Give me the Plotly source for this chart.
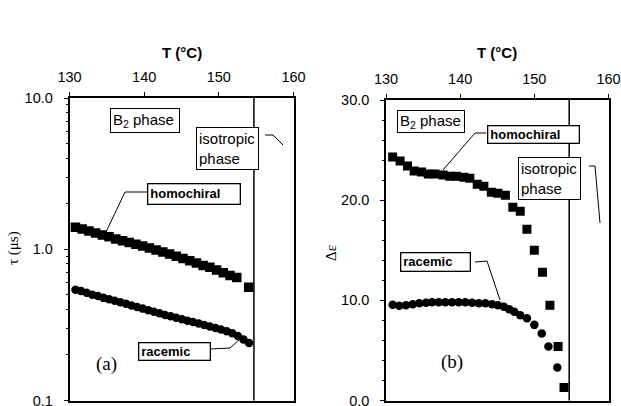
import plotly.graph_objects as go

W, H = 621, 406

# ---------------- data ----------------
# panel (a): relaxation time tau (us) vs T (C)
tau_homo_T = [130.8, 131.7, 132.6, 133.5, 134.4, 135.3, 136.2, 137.1, 138.0, 138.9,
              139.8, 140.7, 141.6, 142.5, 143.4, 144.3, 145.2, 146.1, 147.0, 147.9,
              148.8, 149.7, 150.6, 151.5, 152.4, 154.0]
tau_homo = [1.40, 1.36, 1.32, 1.28, 1.24, 1.21, 1.17, 1.14, 1.11, 1.08,
            1.05, 1.02, 0.99, 0.96, 0.93, 0.90, 0.87, 0.84, 0.81, 0.78,
            0.76, 0.73, 0.70, 0.67, 0.65, 0.56]

tau_rac_T = [130.8, 131.55, 132.3, 133.05, 133.8, 134.55, 135.3, 136.05, 136.8, 137.55,
             138.3, 139.05, 139.8, 140.55, 141.3, 142.05, 142.8, 143.55, 144.3, 145.05,
             145.8, 146.55, 147.3, 148.05, 148.8, 149.55, 150.3, 151.05, 151.8, 152.55,
             153.3, 154.05]
tau_rac = [0.54, 0.53, 0.515, 0.50, 0.49, 0.477, 0.467, 0.457, 0.447, 0.437,
           0.425, 0.415, 0.405, 0.395, 0.386, 0.377, 0.368, 0.36, 0.352, 0.344,
           0.337, 0.33, 0.323, 0.316, 0.309, 0.302, 0.295, 0.287, 0.278, 0.267,
           0.253, 0.24]

# panel (b): dielectric strength vs T (C)
de_homo_T = [130.9, 131.9, 132.9, 133.8, 134.8, 135.7, 136.6, 137.7, 138.6, 139.5,
             140.5, 141.3, 142.3, 143.2, 144.2, 145.1, 146.1, 147.1, 148.1, 149.0,
             150.0, 151.1, 152.1, 153.2, 154.0]
de_homo = [24.3, 23.9, 23.4, 22.9, 22.8, 22.6, 22.6, 22.5, 22.4, 22.4,
           22.3, 22.2, 21.6, 21.4, 20.8, 20.7, 20.5, 19.3, 18.9, 17.1,
           15.0, 12.8, 9.5, 5.4, 1.3]

de_rac_T = [130.9, 131.8, 132.7, 133.6, 134.5, 135.4, 136.2, 137.1, 138.0, 138.9,
            139.8, 140.7, 141.6, 142.5, 143.4, 144.3, 145.1, 145.9, 146.6, 147.3,
            148.1, 149.0, 150.0, 151.0, 151.9, 153.1]
de_rac = [9.55, 9.45, 9.5, 9.6, 9.7, 9.75, 9.8, 9.8, 9.8, 9.8,
          9.8, 9.8, 9.75, 9.7, 9.7, 9.6, 9.5, 9.35, 9.1, 8.85,
          8.5, 8.2, 7.55, 6.7, 5.4, 3.3]

transition_T = 154.7

x_ticks = [130, 140, 150, 160]
tau_ticks = [0.1, 1.0, 10.0]
tau_ticktext = ["0.1", "1.0", "10.0"]
tau_minor = [0.2, 0.3, 0.4, 0.5, 0.6, 0.7, 0.8, 0.9, 2, 3, 4, 5, 6, 7, 8, 9]
de_ticks = [0, 10, 20, 30]
de_ticktext = ["0.0", "10.0", "20.0", "30.0"]

# ---------------- layout helpers ----------------
def px(x):
    return x / W

def py(y):
    return 1 - y / H

SANS = "Liberation Sans, Arial, Helvetica, sans-serif"
SERIF = "Liberation Serif, Times New Roman, serif"

fig = go.Figure()

fig.add_trace(go.Scatter(x=tau_homo_T, y=tau_homo, mode="markers", xaxis="x", yaxis="y",
                         marker=dict(symbol="square", size=9.5, color="black"), showlegend=False))
fig.add_trace(go.Scatter(x=tau_rac_T, y=tau_rac, mode="markers", xaxis="x", yaxis="y",
                         marker=dict(symbol="circle", size=8.5, color="black"), showlegend=False))
fig.add_trace(go.Scatter(x=de_homo_T, y=de_homo, mode="markers", xaxis="x2", yaxis="y2",
                         marker=dict(symbol="square", size=9, color="black"), showlegend=False))
fig.add_trace(go.Scatter(x=de_rac_T, y=de_rac, mode="markers", xaxis="x2", yaxis="y2",
                         marker=dict(symbol="circle", size=8.5, color="black"), showlegend=False))

xcommon = dict(range=[130, 160], tickvals=x_ticks, side="top", showline=True, mirror=True,
               linecolor="black", linewidth=1.5, ticks="outside", ticklen=4, tickwidth=1,
               tickcolor="black", showgrid=False, zeroline=False, ticklabeloverflow="allow",
               automargin=False,
               tickfont=dict(family=SANS, size=14.5, color="black"), ticklabelstandoff=4)

ycommon = dict(showline=True, mirror=True, linecolor="black", linewidth=1.5, ticks="outside",
               ticklen=4, tickcolor="black", showgrid=False, zeroline=False,
               ticklabeloverflow="allow", automargin=False,
               tickfont=dict(family=SANS, size=14.5, color="black"), ticklabelstandoff=8)

fig.update_layout(
    width=W, height=H, autosize=False,
    margin=dict(l=0, r=0, t=0, b=0, autoexpand=False),
    paper_bgcolor="white", plot_bgcolor="white",
    xaxis=dict(domain=[px(69.5), px(293.5)], anchor="y", **xcommon),
    xaxis2=dict(domain=[px(386), px(608.5)], anchor="y2", **xcommon),
    yaxis=dict(domain=[py(400.5), py(98)], anchor="x", type="log", range=[-1, 1],
               tickvals=tau_ticks, ticktext=tau_ticktext,
               minor=dict(tickvals=tau_minor, ticks="outside", ticklen=2, tickcolor="black",
                          showgrid=False), **ycommon),
    yaxis2=dict(domain=[py(400.5), py(100)], anchor="x2", range=[0, 30],
                tickvals=de_ticks, ticktext=de_ticktext,
                minor=dict(dtick=2, ticks="outside", ticklen=2, tickcolor="black",
                           showgrid=False), **ycommon),
)

# phase-transition lines
for xr, yr in (("x", "y"), ("x2", "y2")):
    fig.add_shape(type="line", xref=xr, yref=yr + " domain", x0=transition_T, x1=transition_T,
                  y0=0, y1=1, line=dict(color="black", width=1.5))

# leader lines (paper coordinates)
leaders = [
    [(147, 192), (125, 192), (106, 232)],
    [(211, 349), (230, 348), (240, 339)],
    [(265, 135), (273, 135), (283, 145)],
    [(486, 133), (475, 133), (443, 170)],
    [(589, 166), (595, 166), (600, 223)],
    [(475, 262), (487, 261), (500, 300)],
]
for pts in leaders:
    path = "M " + " L ".join(f"{px(a)},{py(b)}" for a, b in pts)
    fig.add_shape(type="path", xref="paper", yref="paper", path=path,
                  line=dict(color="black", width=1))

def label(text, x, y, w=None, h=None, bold=False, size=15, align="left", border=True,
          family=SANS, xanchor="left", yanchor="top", angle=0):
    kw = dict(text=(f"<b>{text}</b>" if bold else text), x=px(x), y=py(y), xref="paper",
              yref="paper", showarrow=False, xanchor=xanchor, yanchor=yanchor, align=align,
              font=dict(family=family, size=size, color="black"), textangle=angle)
    if border:
        kw.update(bordercolor="black", borderwidth=1.3 if bold else 1, borderpad=2,
                  bgcolor="white")
    if w:
        kw["width"] = w
    if h:
        kw["height"] = h
    fig.add_annotation(**kw)

# panel (a)
label("B<sub>2</sub> phase", 110, 108, w=64, h=19)
label("isotropic<br>phase", 196, 127, w=57)
label("homochiral", 147, 183, w=87, h=15, bold=True, size=13)
label("racemic", 138, 342, w=66, h=12, bold=True, size=13)
label("(a)", 106, 364, border=False, family=SERIF, size=19, xanchor="center", yanchor="middle")
label("<b>T (°C)</b>", 181.5, 52, border=False, size=15, xanchor="center", yanchor="middle")
label("τ (μs)", 13, 248, border=False, family=SERIF, size=15, xanchor="center",
      yanchor="middle", angle=-90)

# panel (b)
label("B<sub>2</sub> phase", 397, 110, w=62, h=17)
label("homochiral", 487, 125, w=86, h=12, bold=True, size=13)
label("isotropic<br>phase", 518, 157, w=57)
label("racemic", 400, 252, w=64, h=13, bold=True, size=13)
label("(b)", 452, 362, border=False, family=SERIF, size=19, xanchor="center", yanchor="middle")
label("<b>T (°C)</b>", 497, 52, border=False, size=15, xanchor="center", yanchor="middle")
label("Δε", 331, 253, border=False, family=SERIF, size=15, xanchor="center",
      yanchor="middle", angle=-90)

fig.write_html("out.html")
